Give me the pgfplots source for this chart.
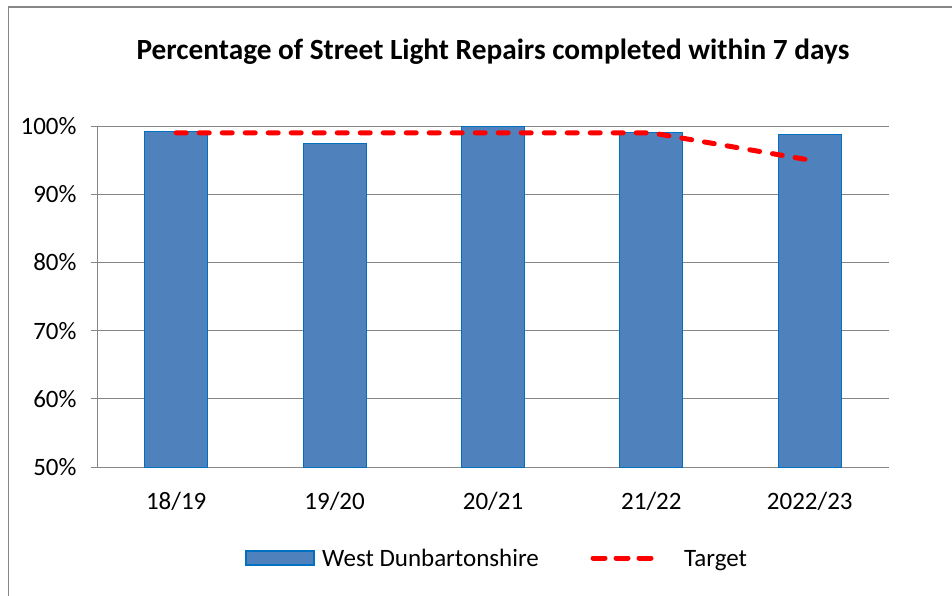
\documentclass[border=0pt]{standalone}
\usepackage{pgfplots}
\pgfplotsset{compat=1.18}
\usepackage{fontspec}
\setmainfont{Carlito}
\definecolor{barblue}{RGB}{79,129,189}
\definecolor{baredge}{RGB}{0,112,192}
\definecolor{gridgray}{RGB}{134,134,134}
\begin{document}
\begin{tikzpicture}
\begin{axis}[
  name=ax,
  scale only axis, width=792pt, height=341pt,
  xmin=-0.5, xmax=4.5, ymin=0.5, ymax=1.0,
  xtick={0,1,2,3,4},
  xticklabels={18/19,19/20,20/21,21/22,2022/23},
  ytick={0.5,0.6,0.7,0.8,0.9,1.0},
  yticklabels={50\%,60\%,70\%,80\%,90\%,100\%},
  ymajorgrids, grid style={gridgray,line width=0.8pt},
  axis x line*=bottom, axis y line*=left,
  axis line style={gridgray,line width=0.8pt},
  x axis line style={-}, y axis line style={-},
  xtick style={draw=none},
  ytick style={gridgray,line width=0.8pt},
  tick align=outside, major tick length=6pt,
  tick label style={font=\fontsize{25}{29}\selectfont},
  xticklabel style={yshift=-16pt},
  yticklabel style={xshift=-11pt},
  clip=false,
]
\addplot[ybar, bar width=63pt, fill=barblue, draw=baredge, line width=1pt]
  coordinates {(0,0.992) (1,0.975) (2,1.0) (3,0.991) (4,0.988)};
\addplot[red, line width=5pt, dash pattern=on 10pt off 13pt, line cap=round, mark=none]
  coordinates {(0,0.99) (1,0.99) (2,0.99) (3,0.99) (4,0.95)};
\end{axis}
\path[use as bounding box] ([shift={(-97pt,-128pt)}]ax.south west) rectangle ([shift={(855pt,467pt)}]ax.south west);
\draw[gridgray,line width=1.6pt] ([shift={(-88.5pt,-130pt)}]ax.south west) -- ([shift={(-88.5pt,460pt)}]ax.south west) -- ([shift={(860pt,460pt)}]ax.south west);
\node[font=\bfseries\fontsize{29.3}{34}\selectfont] at ([shift={(396pt,415pt)}]ax.south west) {Percentage of Street Light Repairs completed within 7 days};
% legend
\draw[fill=barblue,draw=baredge,line width=1.2pt] ([shift={(149pt,-98pt)}]ax.south west) rectangle ([shift={(217pt,-84pt)}]ax.south west);
\node[anchor=base west,font=\fontsize{25}{29}\selectfont,inner sep=0pt] at ([shift={(225pt,-99pt)}]ax.south west) {West Dunbartonshire};
\draw[red,line width=5pt,dash pattern=on 12pt off 11pt,line cap=round] ([shift={(496pt,-91pt)}]ax.south west) -- ([shift={(557pt,-91pt)}]ax.south west);
\node[anchor=base west,font=\fontsize{25}{29}\selectfont,inner sep=0pt] at ([shift={(587pt,-99pt)}]ax.south west) {Target};
\end{tikzpicture}
\end{document}
